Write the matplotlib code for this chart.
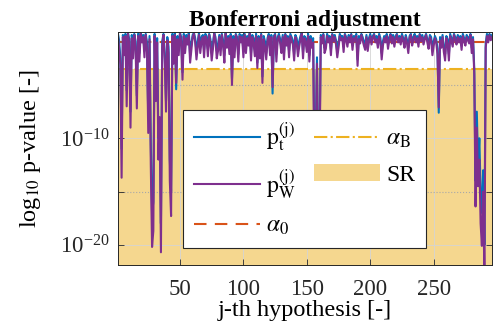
import numpy as np
from matplotlib import pyplot as plt
from matplotlib.ticker import FixedLocator, NullFormatter

plt.rcParams['font.family'] = ['Liberation Serif', 'DejaVu Serif']
plt.rcParams['mathtext.fontset'] = 'stix'

# log10 of the p-values, one per hypothesis
log_pt = [
    -0.1, -0.8, -2.5, -11.0, -0.3, -1.5, -0.2, -5.5, -0.1, -0.7, -7.5, -0.3, -1.8, -0.2, -0.9, -6.0, -0.2, -2.0, -0.1, -0.6,
    -0.3, -1.8, -0.2, -1.0, -8.0, -0.4, -10.5, -17.0, -16.0, -0.2, -5.5, -0.6, -10.0, -8.6, -18.0, -0.9, -0.2, -2.0, -6.5, -0.5,
    -1.4, -12.0, -15.0, -0.2, -2.2, -0.1, -5.4, -0.4, -1.5, -0.1, -0.5, -3.8, -0.2, -1.4, -0.3, -0.8, -0.1, -2.2, -1.1, -0.3,
    -0.1, -0.6, -1.9, -0.9, -0.1, -1.4, -0.5, -0.3, -1.7, -0.2, -0.4, -1.6, -0.2, -0.7, -2.0, -1.1, -0.1, -0.5, -1.8, -1.2,
    -0.3, -1.5, -0.2, -0.8, -2.2, -0.1, -1.0, -0.4, -1.5, -0.2, -4.4, -0.4, -1.8, -0.2, -0.5, -2.1, -0.2, -0.6, -0.3, -1.8,
    -0.2, -1.4, -0.4, -0.8, -0.1, -2.0, -0.3, -0.6, -1.7, -0.2, -2.9, -0.4, -1.9, -0.2, -4.2, -0.4, -0.9, -2.0, -0.6, -0.2,
    -1.6, -0.3, -5.8, -0.4, -0.2, -2.1, -0.5, -0.2, -0.7, -1.4, -0.3, -2.0, -0.2, -0.8, -0.4, -1.8, -0.2, -0.5, -0.8, -2.1,
    -0.3, -0.6, -1.7, -0.9, -0.4, -0.1, -1.9, -0.4, -0.6, -1.4, -0.2, -2.2, -0.4, -1.0, -0.6, -12.0, -10.0, -2.4, -13.0, -11.0,
    -0.3, -0.7, -0.2, -1.5, -1.1, -0.2, -0.6, -0.4, -1.7, -0.2, -0.6, -0.3, -0.8, -1.9, -1.0, -0.2, -0.5, -0.4, -1.4, -0.2,
    -0.5, -1.0, -0.3, -0.7, -0.2, -1.2, -0.4, -0.6, -0.2, -2.6, -0.4, -0.7, -0.2, -0.5, -0.9, -1.3, -0.3, -1.4, -0.6, -0.2,
    -0.8, -0.4, -0.2, -0.7, -0.4, -1.1, -0.2, -0.6, -2.0, -0.9, -0.4, -0.7, -0.2, -1.2, -0.5, -0.2, -0.8, -0.3, -1.0, -0.4,
    -0.2, -0.7, -0.4, -0.9, -0.2, -0.6, -1.1, -0.3, -0.8, -1.5, -0.4, -0.2, -0.9, -0.5, -0.2, -0.7, -0.4, -1.0, -0.2, -0.6,
    -0.3, -0.9, -0.5, -0.2, -0.7, -1.2, -0.3, -0.5, -1.7, -0.9, -0.4, -0.7, -1.6, -7.6, -0.5, -1.1, -0.3, -1.4, -2.1, -0.4,
    -0.7, -2.1, -0.2, -0.6, -1.0, -0.2, -0.5, -0.9, -0.3, -0.7, -0.4, -1.3, -0.2, -0.6, -1.0, -0.3, -0.5, -0.8, -0.2, -1.5,
    -0.5, -3.5, -14.0, -7.5, -12.5, -10.0, -15.0, -17.0, -13.0, -20.0, -1.1, -0.2, -0.7, -0.2, -0.5, -0.3,
]

log_pw = [
    -0.3, -1.5, -3.1, -13.7, -0.5, -2.2, -0.4, -7.0, -0.2, -1.1, -9.0, -0.6, -2.5, -0.3, -1.4, -7.2, -0.4, -2.8, -0.2, -1.0,
    -0.5, -2.4, -0.3, -1.6, -9.5, -0.7, -12.5, -20.2, -18.7, -0.4, -6.5, -1.0, -12.0, -8.0, -20.7, -1.4, -0.3, -2.6, -7.5, -0.8,
    -2.0, -14.0, -17.3, -0.4, -3.0, -0.3, -4.8, -0.7, -2.2, -0.2, -0.9, -4.5, -0.4, -2.0, -0.6, -1.2, -0.3, -2.9, -1.7, -0.5,
    -0.2, -1.0, -2.6, -1.4, -0.3, -2.0, -0.9, -0.5, -2.4, -0.4, -0.7, -2.3, -0.3, -1.1, -2.7, -1.6, -0.2, -0.8, -2.5, -1.8,
    -0.5, -2.2, -0.3, -1.3, -2.9, -0.2, -1.5, -0.6, -2.1, -0.4, -5.0, -0.7, -2.4, -0.3, -0.8, -2.8, -0.4, -1.0, -0.5, -2.4,
    -0.3, -2.0, -0.6, -1.3, -0.2, -2.7, -0.5, -1.0, -2.3, -0.4, -3.4, -0.6, -2.5, -0.3, -4.8, -0.7, -1.4, -2.6, -0.9, -0.4,
    -2.2, -0.5, -5.2, -0.6, -0.3, -2.8, -0.8, -0.4, -1.1, -2.0, -0.5, -2.6, -0.3, -1.3, -0.6, -2.4, -0.4, -0.8, -1.2, -2.7,
    -0.5, -1.0, -2.3, -1.4, -0.7, -0.2, -2.5, -0.6, -0.9, -1.9, -0.4, -2.8, -0.7, -1.5, -1.0, -14.0, -12.0, -3.0, -15.0, -13.0,
    -0.5, -1.1, -0.3, -2.0, -1.6, -0.4, -1.0, -0.6, -2.2, -0.3, -0.9, -0.5, -1.2, -2.4, -1.5, -0.4, -0.8, -0.6, -1.9, -0.3,
    -0.8, -1.4, -0.5, -1.0, -0.3, -1.7, -0.6, -0.9, -0.4, -3.2, -0.7, -1.1, -0.3, -0.8, -1.3, -1.7, -0.5, -1.8, -0.9, -0.4,
    -1.2, -0.6, -0.3, -1.0, -0.7, -1.5, -0.4, -0.9, -2.6, -1.3, -0.6, -1.0, -0.4, -1.6, -0.8, -0.3, -1.1, -0.5, -1.4, -0.7,
    -0.3, -1.0, -0.6, -1.2, -0.4, -0.9, -1.5, -0.5, -1.1, -2.0, -0.6, -0.3, -1.3, -0.8, -0.4, -1.0, -0.6, -1.4, -0.3, -0.9,
    -0.5, -1.2, -0.7, -0.3, -1.0, -1.6, -0.5, -0.8, -2.2, -1.3, -0.6, -1.0, -2.1, -7.1, -0.8, -1.5, -0.5, -1.9, -2.7, -0.6,
    -1.1, -2.7, -0.4, -0.9, -1.4, -0.3, -0.8, -1.2, -0.5, -1.0, -0.6, -1.7, -0.4, -0.9, -1.3, -0.5, -0.8, -1.1, -0.3, -2.0,
    -0.7, -4.0, -16.4, -9.0, -14.5, -12.0, -18.0, -20.1, -15.0, -23.0, -1.5, -0.4, -1.0, -0.3, -0.8, -0.5,
]

ALPHA_0 = 0.1
x_ticks = [50, 100, 150, 200, 250]
y_ticks = [1e-20, 1e-10]
y_minor = [1e-15, 1e-5]

hyp = np.arange(1, len(log_pw) + 1)
p_t = 10.0 ** np.array(log_pt)
p_w = 10.0 ** np.array(log_pw)
alpha_b = ALPHA_0 / len(hyp)

fig, ax = plt.subplots(figsize=(4.95, 3.33), dpi=100)
fig.subplots_adjust(left=0.238, right=0.994, bottom=0.204, top=0.904)

# significance region below the Bonferroni threshold
ax.fill_between([hyp[0], hyp[-1]], 1e-30, alpha_b, color='#EDB120', alpha=0.5,
                lw=0, zorder=0.5, label='SR')
ax.plot(hyp, p_t, color='#0072BD', lw=1.5, label=r'$\mathrm{p}_\mathrm{t}^\mathrm{(j)}$')
ax.plot(hyp, p_w, color='#7E2F8E', lw=1.5, label=r'$\mathrm{p}_\mathrm{W}^\mathrm{(j)}$')
ax.axhline(ALPHA_0, color='#D95319', lw=1.5, ls='--', dashes=(6, 4), zorder=1.8,
           label=r'$\alpha_0$')
ax.axhline(alpha_b, color='#EDB120', lw=1.5, ls='-.', zorder=1.8,
           label=r'$\alpha_\mathrm{B}$')

ax.set_yscale('log')
ax.set_xlim(hyp[0], hyp[-1])
ax.set_ylim(10 ** -21.9, 10 ** -0.02)
ax.set_xticks(x_ticks)
ax.set_yticks(y_ticks)
ax.yaxis.set_minor_locator(FixedLocator(y_minor))
ax.yaxis.set_minor_formatter(NullFormatter())

ax.grid(True, which='major', color='#d4d4d4', lw=0.6)
ax.grid(True, which='minor', axis='y', color='#a8a8a8', lw=0.8, ls=':')
ax.tick_params(which='both', direction='in', top=True, right=True, length=4,
               width=0.6, colors='#262626', labelsize=16.5)
ax.tick_params(axis='x', pad=10)
ax.tick_params(axis='y', pad=6)
for spine in ax.spines.values():
    spine.set_color('#262626')
    spine.set_linewidth(0.7)

ax.set_title('Bonferroni adjustment', fontsize=17, fontweight='bold', pad=4)
ax.set_xlabel('j-th hypothesis [-]', fontsize=17.5, labelpad=0)
ax.set_ylabel(r'log$_{10}$ p-value [-]', fontsize=17.5, labelpad=12)

handles, labels = ax.get_legend_handles_labels()
order = [1, 2, 3, 4, 0]
leg = ax.legend([handles[i] for i in order], [labels[i] for i in order], ncol=2,
                loc='lower left', bbox_to_anchor=(0.174, 0.073), borderaxespad=0,
                fontsize=17, frameon=True, fancybox=False, framealpha=1,
                edgecolor='#262626', handlelength=2.8, handletextpad=0.25,
                columnspacing=0.8, labelspacing=0.6, borderpad=0.45)
leg.get_frame().set_linewidth(0.8)
leg.set_zorder(5)

fig.savefig('out.png', dpi=100)
